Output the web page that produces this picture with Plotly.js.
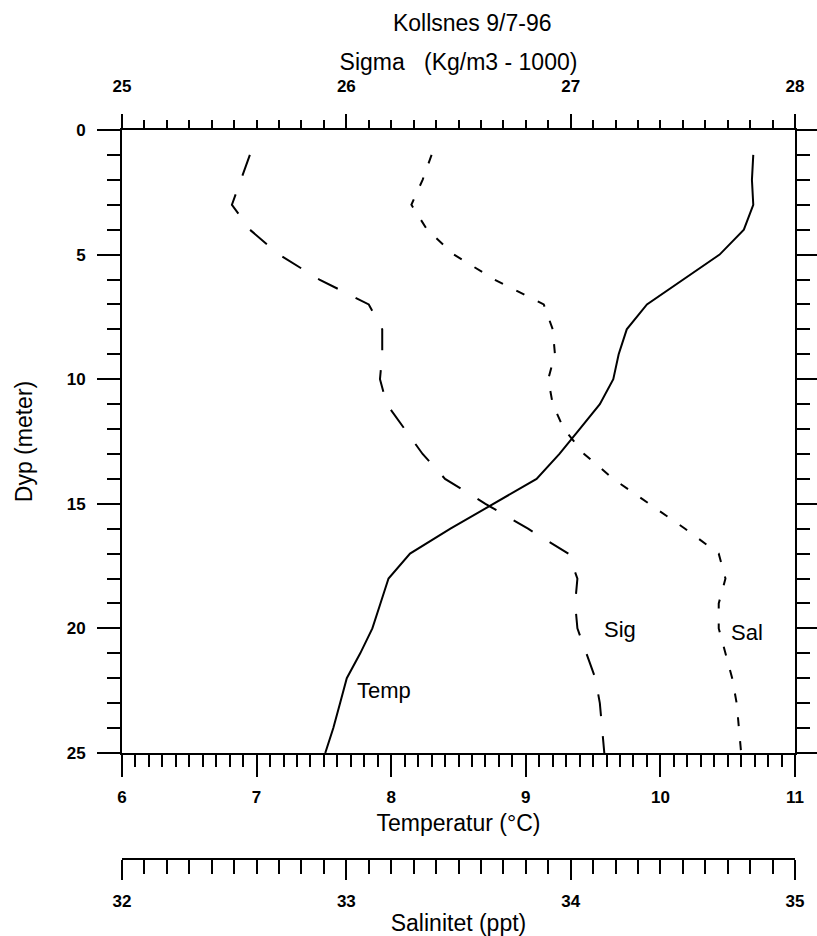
<!DOCTYPE html>
<html>
<head>
<meta charset="utf-8">
<script src="https://cdn.plot.ly/plotly-3.0.1.min.js"></script>
<style>html,body{margin:0;padding:0;background:#fff;}#chart{width:817px;height:936px;}</style>
</head>
<body>
<div id="chart"></div>
<script>
// Depth (m)
var depth = [1,2,3,4,5,6,7,8,9,10,11,12,13,14,15,16,17,18,19,20,21,22,23,24,25];
// Temperature (°C)
var temp = [10.69,10.68,10.69,10.62,10.44,10.17,9.90,9.75,9.69,9.65,9.55,9.40,9.25,9.08,8.76,8.44,8.14,7.98,7.92,7.86,7.77,7.67,7.62,7.57,7.51];
// Sigma-t (kg/m3 - 1000)
var sigma = [25.57,25.53,25.49,25.57,25.70,25.88,26.10,26.16,26.16,26.15,26.18,26.26,26.34,26.44,26.62,26.81,26.99,27.03,27.02,27.03,27.07,27.11,27.13,27.14,27.15];
// Salinity (ppt)
var sal = [33.38,33.34,33.29,33.36,33.48,33.66,33.88,33.92,33.93,33.90,33.92,33.97,34.06,34.19,34.35,34.51,34.66,34.69,34.66,34.66,34.69,34.72,34.74,34.75,34.76];
// Axis tick labels
var tempTicks = [6,7,8,9,10,11];
var sigmaTicks = [25,26,27,28];
var salTicks = [32,33,34,35];
var depthTicks = [0,5,10,15,20,25];
// Curve labels
var labelText = ["Temp","Sig","Sal"];
var labelX = [7.95, 9.70, 10.64];
var labelY = [22.5, 20.05, 20.15];

var FONT = "Liberation Sans, Arial, Helvetica, sans-serif";
var ink = "#000";
var tickFont = {family:FONT, size:17, color:ink, weight:"bold"};

function minorVals(a, b, step){
  var out = [];
  var n = Math.round((b - a) / step);
  for (var i = 0; i <= n; i++){ out.push(+(a + i*step).toFixed(4)); }
  return out;
}

function xax(ticksArr, range, len, mlen, extra){
  var base = {
    range:range, showgrid:false, zeroline:false, showline:true, linecolor:ink, linewidth:2,
    ticks:"outside", ticklen:len, tickwidth:2, tickcolor:ink,
    tickmode:"array", tickvals:ticksArr, ticktext:ticksArr.map(String),
    minor:{tickmode:"array", tickvals:minorVals(range[0], range[1], 0.1), ticks:"outside", ticklen:mlen, tickwidth:2, tickcolor:ink},
    tickfont:tickFont,
    fixedrange:true
  };
  for (var k in extra) base[k]=extra[k];
  return base;
}

var traces = [
  {x:temp, y:depth, xaxis:"x", yaxis:"y", mode:"lines", line:{color:ink, width:2}, name:"Temp", hoverinfo:"skip"},
  {x:sigma, y:depth, xaxis:"x2", yaxis:"y", mode:"lines", line:{color:ink, width:2, dash:"22px,20px"}, name:"Sig", hoverinfo:"skip"},
  {x:sal, y:depth, xaxis:"x3", yaxis:"y", mode:"lines", line:{color:ink, width:2, dash:"9px,15px"}, name:"Sal", hoverinfo:"skip"}
];

var ann = [];
for (var i=0;i<labelText.length;i++){
  ann.push({x:labelX[i], y:labelY[i], xref:"x", yref:"y", text:labelText[i], showarrow:false,
    font:{family:FONT, size:22, color:ink}});
}

var layout = {
  width:817, height:936,
  margin:{l:122, r:22, t:130, b:77},
  paper_bgcolor:"#fff", plot_bgcolor:"#fff",
  showlegend:false,
  title:{text:"Kollsnes 9/7-96", font:{family:FONT, size:23, color:ink}, xref:"container", yref:"container", x:0.578, xanchor:"center", y:0.975, yanchor:"middle"},
  xaxis: xax(tempTicks, [6,11], 22, 12, {side:"bottom", anchor:"y", ticklabelstandoff:6,
    title:{text:"Temperatur (°C)", font:{family:FONT, size:23, color:ink}, standoff:8}}),
  xaxis2: xax(sigmaTicks, [25,28], 14, 8, {side:"top", anchor:"y", overlaying:"x", ticklabelstandoff:15,
    title:{text:"Sigma\u00a0\u00a0\u00a0(Kg/m3 - 1000)", font:{family:FONT, size:23, color:ink}, standoff:0}}),
  xaxis3: xax(salTicks, [32,35], 20, 14, {side:"bottom", anchor:"free", position:0, overlaying:"x", ticklabelstandoff:7,
    title:{text:"Salinitet (ppt)", font:{family:FONT, size:23, color:ink}, standoff:3}}),
  yaxis:{domain:[0.1454,1], range:[25,0], showgrid:false, zeroline:false, showline:true, linecolor:ink, linewidth:2,
    mirror:"ticks", ticks:"outside", ticklen:23, tickwidth:2, tickcolor:ink,
    tickmode:"array", tickvals:depthTicks, ticktext:depthTicks.map(String), ticklabelstandoff:8,
    minor:{tickmode:"array", tickvals:minorVals(0,25,1), ticks:"outside", ticklen:13, tickwidth:2, tickcolor:ink},
    tickfont:tickFont,
    title:{text:"Dyp (meter)", font:{family:FONT, size:23, color:ink}, standoff:28},
    fixedrange:true},
  annotations: ann
};

Plotly.newPlot("chart", traces, layout, {displayModeBar:false, staticPlot:true});
</script>
</body>
</html>
